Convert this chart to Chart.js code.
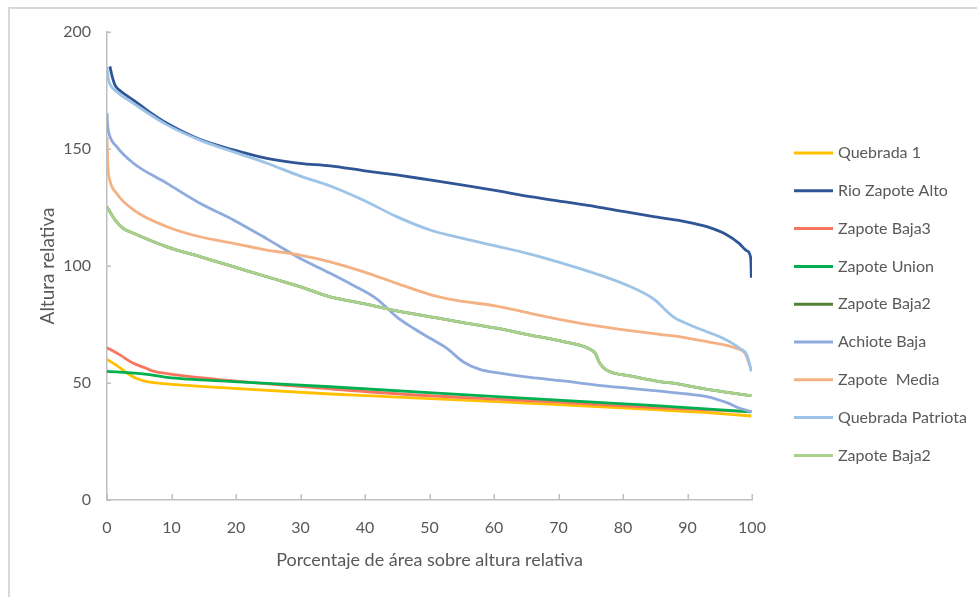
<!DOCTYPE html>
<html>
<head>
<meta charset="utf-8">
<script src="https://cdn.jsdelivr.net/npm/chart.js@4.4.1/dist/chart.umd.min.js"></script>
<style>
  html, body { margin: 0; padding: 0; background: #ffffff; }
  #wrap { position: relative; width: 977px; height: 597px; }
</style>
</head>
<body>
<div id="wrap"><canvas id="c" width="977" height="597"></canvas></div>
<script>
// Hypsometric curves: relative height vs. percentage of area above that height
const seriesNames = [
  'Quebrada 1', 'Rio Zapote Alto', 'Zapote Baja3', 'Zapote Union', 'Zapote Baja2',
  'Achiote Baja', 'Zapote  Media', 'Quebrada Patriota', 'Zapote Baja2'
];
const seriesColors = [
  '#FFC000', '#2F5597', '#F8765F', '#00B050', '#548235',
  '#8FAADC', '#F4B183', '#9DC3E6', '#A9D18E'
];

const xTicks = [0, 10, 20, 30, 40, 50, 60, 70, 80, 90, 100];
const yTicks = [0, 50, 100, 150, 200];

const xQuebrada1 = [0, 1.5, 3, 4.5, 6.2, 9.3, 19.6, 34.6, 45, 60.4, 70, 85.7, 93, 99.9];
const yQuebrada1 = [60.1, 57.5, 54.5, 52, 50.6, 49.6, 47.7, 45.3, 44, 42, 40.8, 38.5, 37.3, 35.9];

const xRioZapoteAlto = [0.45, 0.8, 1.24, 2, 4.1, 6.5, 9.3, 14.4, 19.6, 24.8, 29.9, 34.6, 39.7, 44.9, 50, 55.2, 60.4, 65.6, 70.7, 75.9, 80, 85, 90, 93, 96, 98, 99.2, 99.8, 99.9];
const yRioZapoteAlto = [185.3, 181, 177.3, 175, 170.9, 166, 161, 154.1, 149.6, 146, 143.9, 142.8, 140.8, 138.9, 136.8, 134.6, 132.2, 129.6, 127.5, 125.3, 123.3, 121, 118.8, 116.8, 113.5, 109.7, 106.5, 103.5, 95];

const xZapoteBaja3 = [0, 2, 4, 5.9, 7, 9.3, 14.4, 19.6, 25, 34.6, 45, 60.4, 70, 85.7, 93, 99.9];
const yZapoteBaja3 = [65.1, 62, 58.5, 56.5, 55.2, 54, 52.3, 50.9, 49.6, 47.5, 45.4, 43.1, 41.8, 39.4, 38.5, 37.8];

const xZapoteUnion = [0, 5.9, 9.3, 19.6, 34.6, 60.4, 85.7, 99.9];
const yZapoteUnion = [55, 53.8, 52.4, 50.6, 48.4, 44.2, 40.2, 37.7];

const xZapoteBaja2 = [0, 0.5, 1.24, 2.5, 4.1, 9.3, 14.4, 19.6, 24.8, 29.9, 34.6, 40, 43.9, 50.1, 55.2, 60.4, 65.6, 70.7, 74.6, 75.7, 76.4, 77.4, 81.1, 85.7, 87.8, 93, 99.9];
const yZapoteBaja2 = [125.3, 123, 119.7, 116.1, 114, 108.2, 104, 99.7, 95.4, 91.2, 86.8, 83.8, 81.4, 78.3, 75.8, 73.4, 70.5, 67.7, 64.8, 62.7, 58.4, 55.6, 53, 50.6, 49.9, 47.3, 44.6];

const xAchioteBaja = [0, 0.1, 0.3, 1.5, 4.1, 9.3, 14.4, 19.6, 24.8, 29.9, 34.6, 38, 41.8, 44.9, 47.5, 50.1, 52.7, 55.2, 57.8, 60.4, 65.6, 70.7, 75.9, 81.1, 85.7, 90, 93, 96.1, 98.1, 99.9];
const yAchioteBaja = [165.3, 160, 156.7, 151, 143.9, 135.3, 126.8, 119.7, 111.6, 103.3, 96.9, 92, 86, 78.3, 73.4, 69.1, 64.8, 59.1, 55.8, 54.4, 52.4, 50.9, 49.1, 47.7, 46.5, 45.3, 44.2, 41.6, 39.2, 37.7];

const xZapoteMedia = [0, 0.15, 0.4, 1.5, 4.1, 9.3, 14.4, 19.6, 24.8, 29.9, 34.6, 39.7, 44.9, 50.1, 54.2, 60.4, 65.6, 70.7, 75.9, 81.1, 85.7, 90, 93, 97.6, 98.9, 99.7, 99.9];
const yZapoteMedia = [155, 142, 137, 131, 124, 116.8, 112.5, 109.7, 106.8, 104.7, 101.8, 97.6, 92.6, 87.8, 85.3, 82.9, 79.8, 76.9, 74.4, 72.4, 70.8, 69.2, 67.7, 64.8, 62.7, 57, 55];

const xQuebradaPatriota = [0, 0.2, 0.5, 1.5, 4.1, 9.3, 14.4, 19.6, 24.8, 29.9, 34.6, 39.7, 44.9, 50.1, 55.2, 60.4, 65.6, 70.7, 75.9, 81.1, 84.7, 87.8, 90.4, 93, 95.5, 98.1, 99.2, 99.9];
const yQuebradaPatriota = [185, 180, 177.5, 174.5, 169.5, 160.3, 153.8, 148.8, 143.9, 138.5, 134.2, 128.2, 121.1, 115.4, 111.8, 108.5, 105.1, 101.1, 96.6, 91.2, 86, 78.3, 74.8, 71.9, 69.1, 64.8, 62, 55];

const seriesX = [xQuebrada1, xRioZapoteAlto, xZapoteBaja3, xZapoteUnion, xZapoteBaja2,
                 xAchioteBaja, xZapoteMedia, xQuebradaPatriota, xZapoteBaja2];
const seriesY = [yQuebrada1, yRioZapoteAlto, yZapoteBaja3, yZapoteUnion, yZapoteBaja2,
                 yAchioteBaja, yZapoteMedia, yQuebradaPatriota, yZapoteBaja2];

const FONT = 'Lato, "Open Sans", sans-serif';
const TEXT = '#595959';
const AXIS = '#bfbfbf';

const datasets = seriesNames.map((name, i) => ({
  label: name,
  data: seriesX[i].map((x, k) => ({ x: x, y: seriesY[i][k] })),
  borderColor: seriesColors[i],
  backgroundColor: seriesColors[i],
  borderWidth: 2.8,
  pointRadius: 0,
  fill: false,
  cubicInterpolationMode: 'monotone',
  order: seriesNames.length - i
}));

// Outer frame, inward tick marks and the side legend
const decor = {
  id: 'decor',
  beforeDraw(chart) {
    const ctx = chart.ctx;
    ctx.save();
    ctx.fillStyle = '#d9d9d9';
    ctx.fillRect(8, 7, 977 - 8, 2);
    ctx.fillRect(8, 7, 2, 597 - 7);
    ctx.restore();
  },
  afterDatasetsDraw(chart) {
    const ctx = chart.ctx;
    const xs = chart.scales.x, ys = chart.scales.y;
    const area = chart.chartArea;
    ctx.save();
    ctx.strokeStyle = AXIS;
    ctx.lineWidth = 1.5;
    ctx.beginPath();
    xTicks.forEach(v => {
      const px = Math.round(xs.getPixelForValue(v)) + 0.25;
      ctx.moveTo(px, area.bottom);
      ctx.lineTo(px, area.bottom - 6);
    });
    yTicks.forEach(v => {
      const py = Math.round(ys.getPixelForValue(v)) + 0.25;
      ctx.moveTo(area.left, py);
      ctx.lineTo(area.left + 4, py);
    });
    ctx.stroke();

    // legend
    ctx.font = '16px ' + FONT;
    ctx.textBaseline = 'middle';
    ctx.textAlign = 'left';
    seriesNames.forEach((name, i) => {
      const y = 153 + i * 37.8;
      ctx.strokeStyle = seriesColors[i];
      ctx.lineWidth = 3;
      ctx.beginPath();
      ctx.moveTo(794, y);
      ctx.lineTo(833, y);
      ctx.stroke();
      ctx.fillStyle = TEXT;
      ctx.fillText(name, 838, y);
    });
    ctx.restore();
  }
};

new Chart(document.getElementById('c'), {
  type: 'line',
  data: { datasets: datasets },
  plugins: [decor],
  options: {
    responsive: false,
    animation: false,
    devicePixelRatio: 1,
    layout: { padding: { left: 28, right: 225, top: 32, bottom: 10 } },
    plugins: { legend: { display: false }, tooltip: { enabled: false } },
    scales: {
      x: {
        type: 'linear',
        min: 0, max: 100,
        afterFit(scale) { scale.height = 87; },
        afterBuildTicks(scale) { scale.ticks = xTicks.map(v => ({ value: v })); },
        grid: { display: false, drawTicks: false },
        border: { display: true, color: AXIS, width: 1.5 },
        ticks: { color: TEXT, font: { family: FONT, size: 16 }, padding: 18, maxRotation: 0 },
        title: { display: true, text: 'Porcentaje de área sobre altura relativa', color: TEXT,
                 font: { family: FONT, size: 18 }, padding: { top: 0, bottom: 16 } }
      },
      y: {
        type: 'linear',
        min: 0, max: 200,
        afterFit(scale) { scale.width = 79; },
        afterBuildTicks(scale) { scale.ticks = yTicks.map(v => ({ value: v })); },
        grid: { display: false, drawTicks: false },
        border: { display: true, color: AXIS, width: 1.5 },
        ticks: { color: TEXT, font: { family: FONT, size: 16 }, padding: 16 },
        title: { display: true, text: 'Altura relativa', color: TEXT,
                 font: { family: FONT, size: 19 }, padding: { top: 8, bottom: 0 } }
      }
    }
  }
});
</script>
</body>
</html>
